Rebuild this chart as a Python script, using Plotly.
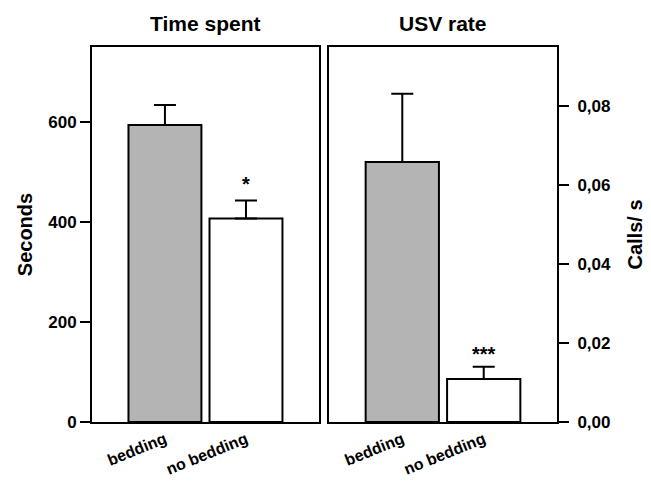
import plotly.graph_objects as go

categories = ["bedding", "no bedding"]
time_values = [594, 407]
time_err = [40, 36]
usv_values = [0.0658, 0.0109]
usv_err = [0.0173, 0.0031]
bar_colors = ["#b4b4b4", "#ffffff"]
time_sig = ["", "*"]
usv_sig = ["", "***"]

FONT = "Liberation Sans, Arial, sans-serif"

fig = go.Figure()
fig.add_trace(go.Bar(
    x=categories, y=time_values, width=0.9,
    marker=dict(color=bar_colors, line=dict(color="black", width=2)),
    error_y=dict(type="data", array=time_err, arrayminus=[0, 0], symmetric=False,
                 color="black", thickness=2, width=11),
    xaxis="x", yaxis="y", showlegend=False))
fig.add_trace(go.Bar(
    x=categories, y=usv_values, width=0.9,
    marker=dict(color=bar_colors, line=dict(color="black", width=2)),
    error_y=dict(type="data", array=usv_err, arrayminus=[0, 0], symmetric=False,
                 color="black", thickness=2, width=11),
    xaxis="x2", yaxis="y2", showlegend=False))

annotations = []
for c, v, e, s in zip(categories, time_values, time_err, time_sig):
    if s:
        annotations.append(dict(x=c, y=v + e, xref="x", yref="y", text=s, showarrow=False,
                                yanchor="bottom", yshift=4, font=dict(family=FONT, size=20, color="black", weight="bold")))
for c, v, e, s in zip(categories, usv_values, usv_err, usv_sig):
    if s:
        annotations.append(dict(x=c, y=v + e, xref="x2", yref="y2", text=s, showarrow=False,
                                yanchor="bottom", yshift=0, font=dict(family=FONT, size=20, color="black", weight="bold")))
annotations.append(dict(x=0.5, y=1.0, xref="x domain", yref="paper", text="Time spent", showarrow=False,
                        yanchor="bottom", yshift=10, font=dict(family=FONT, size=21, color="black", weight="bold")))
annotations.append(dict(x=0.5, y=1.0, xref="x2 domain", yref="paper", text="USV rate", showarrow=False,
                        yanchor="bottom", yshift=10, font=dict(family=FONT, size=21, color="black", weight="bold")))

axis_common = dict(showline=True, linecolor="black", linewidth=2, mirror=True,
                   showgrid=False, zeroline=False, automargin=False)
tickfont = dict(family=FONT, size=17, color="black", weight="bold")
xtickfont = dict(family=FONT, size=16, color="black", weight="bold")

fig.update_layout(
    width=651, height=481,
    margin=dict(l=92, r=94, t=47, b=59),
    paper_bgcolor="white", plot_bgcolor="white",
    separators=", ",
    font=dict(family=FONT, color="black"),
    annotations=annotations,
    xaxis=dict(domain=[0, 0.488], range=[-0.9, 1.9], ticks="", tickangle=-22,
               tickfont=xtickfont, **axis_common),
    yaxis=dict(range=[0, 750], tickvals=[0, 200, 400, 600], ticks="outside", ticklen=10,
               tickwidth=2, tickcolor="black", tickfont=tickfont,
               title=dict(text="Seconds", standoff=10,
                          font=dict(family=FONT, size=20, color="black", weight="bold")),
               **axis_common),
    xaxis2=dict(domain=[0.5097, 1], range=[-0.9, 1.9], ticks="", tickangle=-22,
                tickfont=xtickfont, anchor="y2", **axis_common),
    yaxis2=dict(range=[0, 0.0949], tickvals=[0, 0.02, 0.04, 0.06, 0.08], tickformat=".2f",
                side="right", anchor="x2", ticks="outside", ticklen=10,
                tickwidth=2, tickcolor="black", tickfont=tickfont, ticklabelstandoff=5,
                title=dict(text="Calls/ s", standoff=18,
                           font=dict(family=FONT, size=20, color="black", weight="bold")),
                **axis_common),
)

fig.write_html("out.html", config={"displayModeBar": False},
               post_script="document.body.style.margin='0';")
